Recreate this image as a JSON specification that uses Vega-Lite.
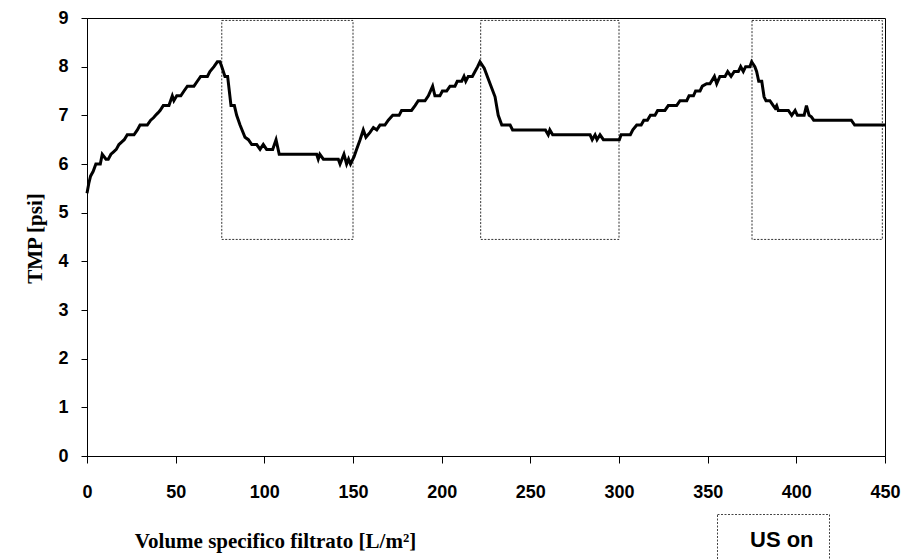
{
  "$schema": "https://vega.github.io/schema/vega-lite/v6.json",
  "autosize": "none",
  "padding": {"left": 87, "top": 18, "right": 27, "bottom": 103},
  "width": 798,
  "height": 438,
  "config": {
    "view": {"stroke": "#000", "strokeWidth": 1},
    "axis": {"grid": false, "domainColor": "#000", "tickColor": "#000", "labelColor": "#000", "titleColor": "#000",
      "labelFont": "Liberation Sans", "labelFontWeight": "bold", "labelFontSize": 18,
      "titleFont": "Liberation Serif", "titleFontWeight": "bold", "titleFontSize": 21},
    "legend": {"strokeDash": [2, 1.5]}
  },
  "datasets": {
    "tmp": [
      {"v": 0, "tmp": 5.4}, {"v": 1, "tmp": 5.6}, {"v": 2, "tmp": 5.75}, {"v": 3.5, "tmp": 5.85}, {"v": 5, "tmp": 6.0},
      {"v": 7.5, "tmp": 6.0}, {"v": 8.6, "tmp": 6.2}, {"v": 10.7, "tmp": 6.1}, {"v": 12, "tmp": 6.1}, {"v": 13.5, "tmp": 6.2},
      {"v": 15, "tmp": 6.25}, {"v": 16.5, "tmp": 6.3}, {"v": 18, "tmp": 6.4}, {"v": 19.5, "tmp": 6.45}, {"v": 21, "tmp": 6.5},
      {"v": 22.7, "tmp": 6.6}, {"v": 26.5, "tmp": 6.6}, {"v": 28.4, "tmp": 6.7}, {"v": 29.9, "tmp": 6.8}, {"v": 34, "tmp": 6.8},
      {"v": 35.9, "tmp": 6.9}, {"v": 37.5, "tmp": 6.95}, {"v": 38.7, "tmp": 7.0}, {"v": 40, "tmp": 7.05}, {"v": 41.2, "tmp": 7.1},
      {"v": 43, "tmp": 7.2}, {"v": 46.2, "tmp": 7.2}, {"v": 48.1, "tmp": 7.4}, {"v": 49, "tmp": 7.3}, {"v": 50.6, "tmp": 7.4},
      {"v": 52.9, "tmp": 7.4}, {"v": 54.7, "tmp": 7.5}, {"v": 56.6, "tmp": 7.6}, {"v": 60.3, "tmp": 7.6}, {"v": 62.2, "tmp": 7.7},
      {"v": 64.1, "tmp": 7.8}, {"v": 67.9, "tmp": 7.8}, {"v": 69.3, "tmp": 7.9}, {"v": 71.6, "tmp": 8.0}, {"v": 73.5, "tmp": 8.1},
      {"v": 75, "tmp": 8.1}, {"v": 76, "tmp": 8.0}, {"v": 77.8, "tmp": 7.8}, {"v": 79.3, "tmp": 7.8}, {"v": 81.2, "tmp": 7.2},
      {"v": 83.1, "tmp": 7.2}, {"v": 84.4, "tmp": 7.0}, {"v": 86.3, "tmp": 6.8}, {"v": 89.1, "tmp": 6.55}, {"v": 91, "tmp": 6.5},
      {"v": 92.9, "tmp": 6.4}, {"v": 95.7, "tmp": 6.4}, {"v": 97.6, "tmp": 6.3}, {"v": 99.4, "tmp": 6.4}, {"v": 101.3, "tmp": 6.3},
      {"v": 104.7, "tmp": 6.3}, {"v": 106.6, "tmp": 6.5}, {"v": 108.4, "tmp": 6.2}, {"v": 129.5, "tmp": 6.2}, {"v": 130.4, "tmp": 6.1},
      {"v": 131.3, "tmp": 6.2}, {"v": 133.3, "tmp": 6.1}, {"v": 141.7, "tmp": 6.1}, {"v": 142.7, "tmp": 6.0}, {"v": 144.9, "tmp": 6.2},
      {"v": 146.4, "tmp": 6.0}, {"v": 147.5, "tmp": 6.1}, {"v": 148.6, "tmp": 6.0}, {"v": 150.6, "tmp": 6.15}, {"v": 152, "tmp": 6.3},
      {"v": 154, "tmp": 6.5}, {"v": 155.8, "tmp": 6.7}, {"v": 157.3, "tmp": 6.55}, {"v": 159.6, "tmp": 6.65}, {"v": 161.5, "tmp": 6.75},
      {"v": 163.4, "tmp": 6.7}, {"v": 165.2, "tmp": 6.8}, {"v": 168, "tmp": 6.8}, {"v": 169.9, "tmp": 6.9}, {"v": 172.4, "tmp": 7.0},
      {"v": 176, "tmp": 7.0}, {"v": 177.4, "tmp": 7.1}, {"v": 183, "tmp": 7.1}, {"v": 185, "tmp": 7.2}, {"v": 186.8, "tmp": 7.3},
      {"v": 190.6, "tmp": 7.3}, {"v": 192.5, "tmp": 7.4}, {"v": 194.9, "tmp": 7.6}, {"v": 196.2, "tmp": 7.4}, {"v": 199, "tmp": 7.4},
      {"v": 200.4, "tmp": 7.5}, {"v": 202.8, "tmp": 7.5}, {"v": 204.7, "tmp": 7.6}, {"v": 207.5, "tmp": 7.6}, {"v": 208.8, "tmp": 7.7},
      {"v": 211.3, "tmp": 7.7}, {"v": 212.6, "tmp": 7.8}, {"v": 213.6, "tmp": 7.7}, {"v": 215, "tmp": 7.8}, {"v": 217.3, "tmp": 7.8},
      {"v": 218.8, "tmp": 7.9}, {"v": 220.3, "tmp": 8.0}, {"v": 221.6, "tmp": 8.1}, {"v": 224, "tmp": 7.97}, {"v": 227.3, "tmp": 7.65},
      {"v": 230.1, "tmp": 7.38}, {"v": 231.9, "tmp": 7.0}, {"v": 233.9, "tmp": 6.8}, {"v": 238.6, "tmp": 6.8}, {"v": 240, "tmp": 6.7},
      {"v": 258.5, "tmp": 6.7}, {"v": 260.1, "tmp": 6.6}, {"v": 261, "tmp": 6.7}, {"v": 262.6, "tmp": 6.6}, {"v": 283.7, "tmp": 6.6},
      {"v": 284.9, "tmp": 6.5}, {"v": 286.5, "tmp": 6.6}, {"v": 287.6, "tmp": 6.5}, {"v": 289.3, "tmp": 6.6}, {"v": 291.2, "tmp": 6.5},
      {"v": 300.2, "tmp": 6.5}, {"v": 301.2, "tmp": 6.6}, {"v": 306.4, "tmp": 6.6}, {"v": 307.8, "tmp": 6.7}, {"v": 310, "tmp": 6.8},
      {"v": 312.5, "tmp": 6.8}, {"v": 314, "tmp": 6.9}, {"v": 316, "tmp": 6.9}, {"v": 317.7, "tmp": 7.0}, {"v": 320.3, "tmp": 7.0},
      {"v": 321.8, "tmp": 7.1}, {"v": 325.9, "tmp": 7.1}, {"v": 327.8, "tmp": 7.2}, {"v": 332.5, "tmp": 7.2}, {"v": 334.4, "tmp": 7.3},
      {"v": 338.2, "tmp": 7.3}, {"v": 339.5, "tmp": 7.4}, {"v": 342, "tmp": 7.4}, {"v": 343.2, "tmp": 7.5}, {"v": 345.7, "tmp": 7.5},
      {"v": 347, "tmp": 7.6}, {"v": 349.4, "tmp": 7.65}, {"v": 351.3, "tmp": 7.65}, {"v": 353.8, "tmp": 7.8}, {"v": 355.1, "tmp": 7.65},
      {"v": 356.9, "tmp": 7.8}, {"v": 359.8, "tmp": 7.8}, {"v": 361.3, "tmp": 7.9}, {"v": 363.2, "tmp": 7.8}, {"v": 365, "tmp": 7.9},
      {"v": 367.3, "tmp": 7.9}, {"v": 368.6, "tmp": 8.0}, {"v": 370.1, "tmp": 7.9}, {"v": 371.4, "tmp": 8.0}, {"v": 373.8, "tmp": 8.0},
      {"v": 374.8, "tmp": 8.1}, {"v": 376.6, "tmp": 8.0}, {"v": 377.6, "tmp": 7.9}, {"v": 378.8, "tmp": 7.7}, {"v": 380.5, "tmp": 7.7},
      {"v": 381.8, "tmp": 7.38}, {"v": 382.9, "tmp": 7.3}, {"v": 385.1, "tmp": 7.3}, {"v": 387, "tmp": 7.2}, {"v": 388, "tmp": 7.15},
      {"v": 388.9, "tmp": 7.2}, {"v": 389.8, "tmp": 7.1}, {"v": 395.5, "tmp": 7.1}, {"v": 397.4, "tmp": 7.0}, {"v": 399.3, "tmp": 7.1},
      {"v": 400.6, "tmp": 7.0}, {"v": 404.4, "tmp": 7.0}, {"v": 405.7, "tmp": 7.2}, {"v": 407.2, "tmp": 7.0}, {"v": 408.5, "tmp": 6.97},
      {"v": 409.8, "tmp": 6.9}, {"v": 431, "tmp": 6.9}, {"v": 432.9, "tmp": 6.8}, {"v": 450, "tmp": 6.8}
    ],
    "us": [
      {"series": "US on", "start": 76, "end": 150, "low": 4.45, "high": 8.95},
      {"series": "US on", "start": 222, "end": 300, "low": 4.45, "high": 8.95},
      {"series": "US on", "start": 375, "end": 448.5, "low": 4.45, "high": 8.95}
    ]
  },
  "layer": [
    {
      "data": {"name": "us"},
      "mark": {"type": "rect", "fill": null, "fillOpacity": 0, "strokeWidth": 1, "strokeDash": [2, 1.5]},
      "encoding": {
        "x": {"field": "start", "type": "quantitative"},
        "x2": {"field": "end"},
        "y": {"field": "low", "type": "quantitative"},
        "y2": {"field": "high"},
        "stroke": {"field": "series", "type": "nominal", "scale": {"range": ["#333"]},
          "legend": {"title": null, "orient": "none", "legendX": 630, "legendY": 496,
            "padding": 15, "strokeColor": "#444", "symbolSize": 0, "symbolStrokeWidth": 0, "symbolOpacity": 0,
            "labelOffset": -4, "labelFont": "Liberation Sans", "labelFontWeight": "bold", "labelFontSize": 22, "labelColor": "#000",
            "labelExpr": "datum.label + '\u00a0\u00a0\u00a0\u00a0'",
            "encode": {"legend": {"enter": {"strokeDash": {"value": [2, 1.5]}}, "update": {"strokeDash": {"value": [2, 1.5]}, "stroke": {"value": "#444"}}}}}}
      }
    },
    {
      "data": {"name": "tmp"},
      "mark": {"type": "line", "color": "#000", "strokeWidth": 3},
      "encoding": {
        "x": {"field": "v", "type": "quantitative",
          "scale": {"domain": [0, 450], "nice": false, "zero": false},
          "axis": {"values": [0, 50, 100, 150, 200, 250, 300, 350, 400, 450], "tickSize": 7, "labelPadding": 20,
            "labelFlush": false, "labelOverlap": false,
            "title": "Volume specifico filtrato [L/m²]", "titleX": 188, "titleY": 91, "titleAlign": "center", "titleBaseline": "alphabetic"}},
        "y": {"field": "tmp", "type": "quantitative",
          "scale": {"domain": [0, 9], "nice": false},
          "axis": {"values": [0, 1, 2, 3, 4, 5, 6, 7, 8, 9], "tickSize": 6, "labelPadding": 13, "labelFlush": false,
            "title": "TMP [psi]", "titleX": -52, "titleY": 220, "titleAngle": -90, "titleAlign": "center", "titleBaseline": "middle"}}
      }
    }
  ]
}
